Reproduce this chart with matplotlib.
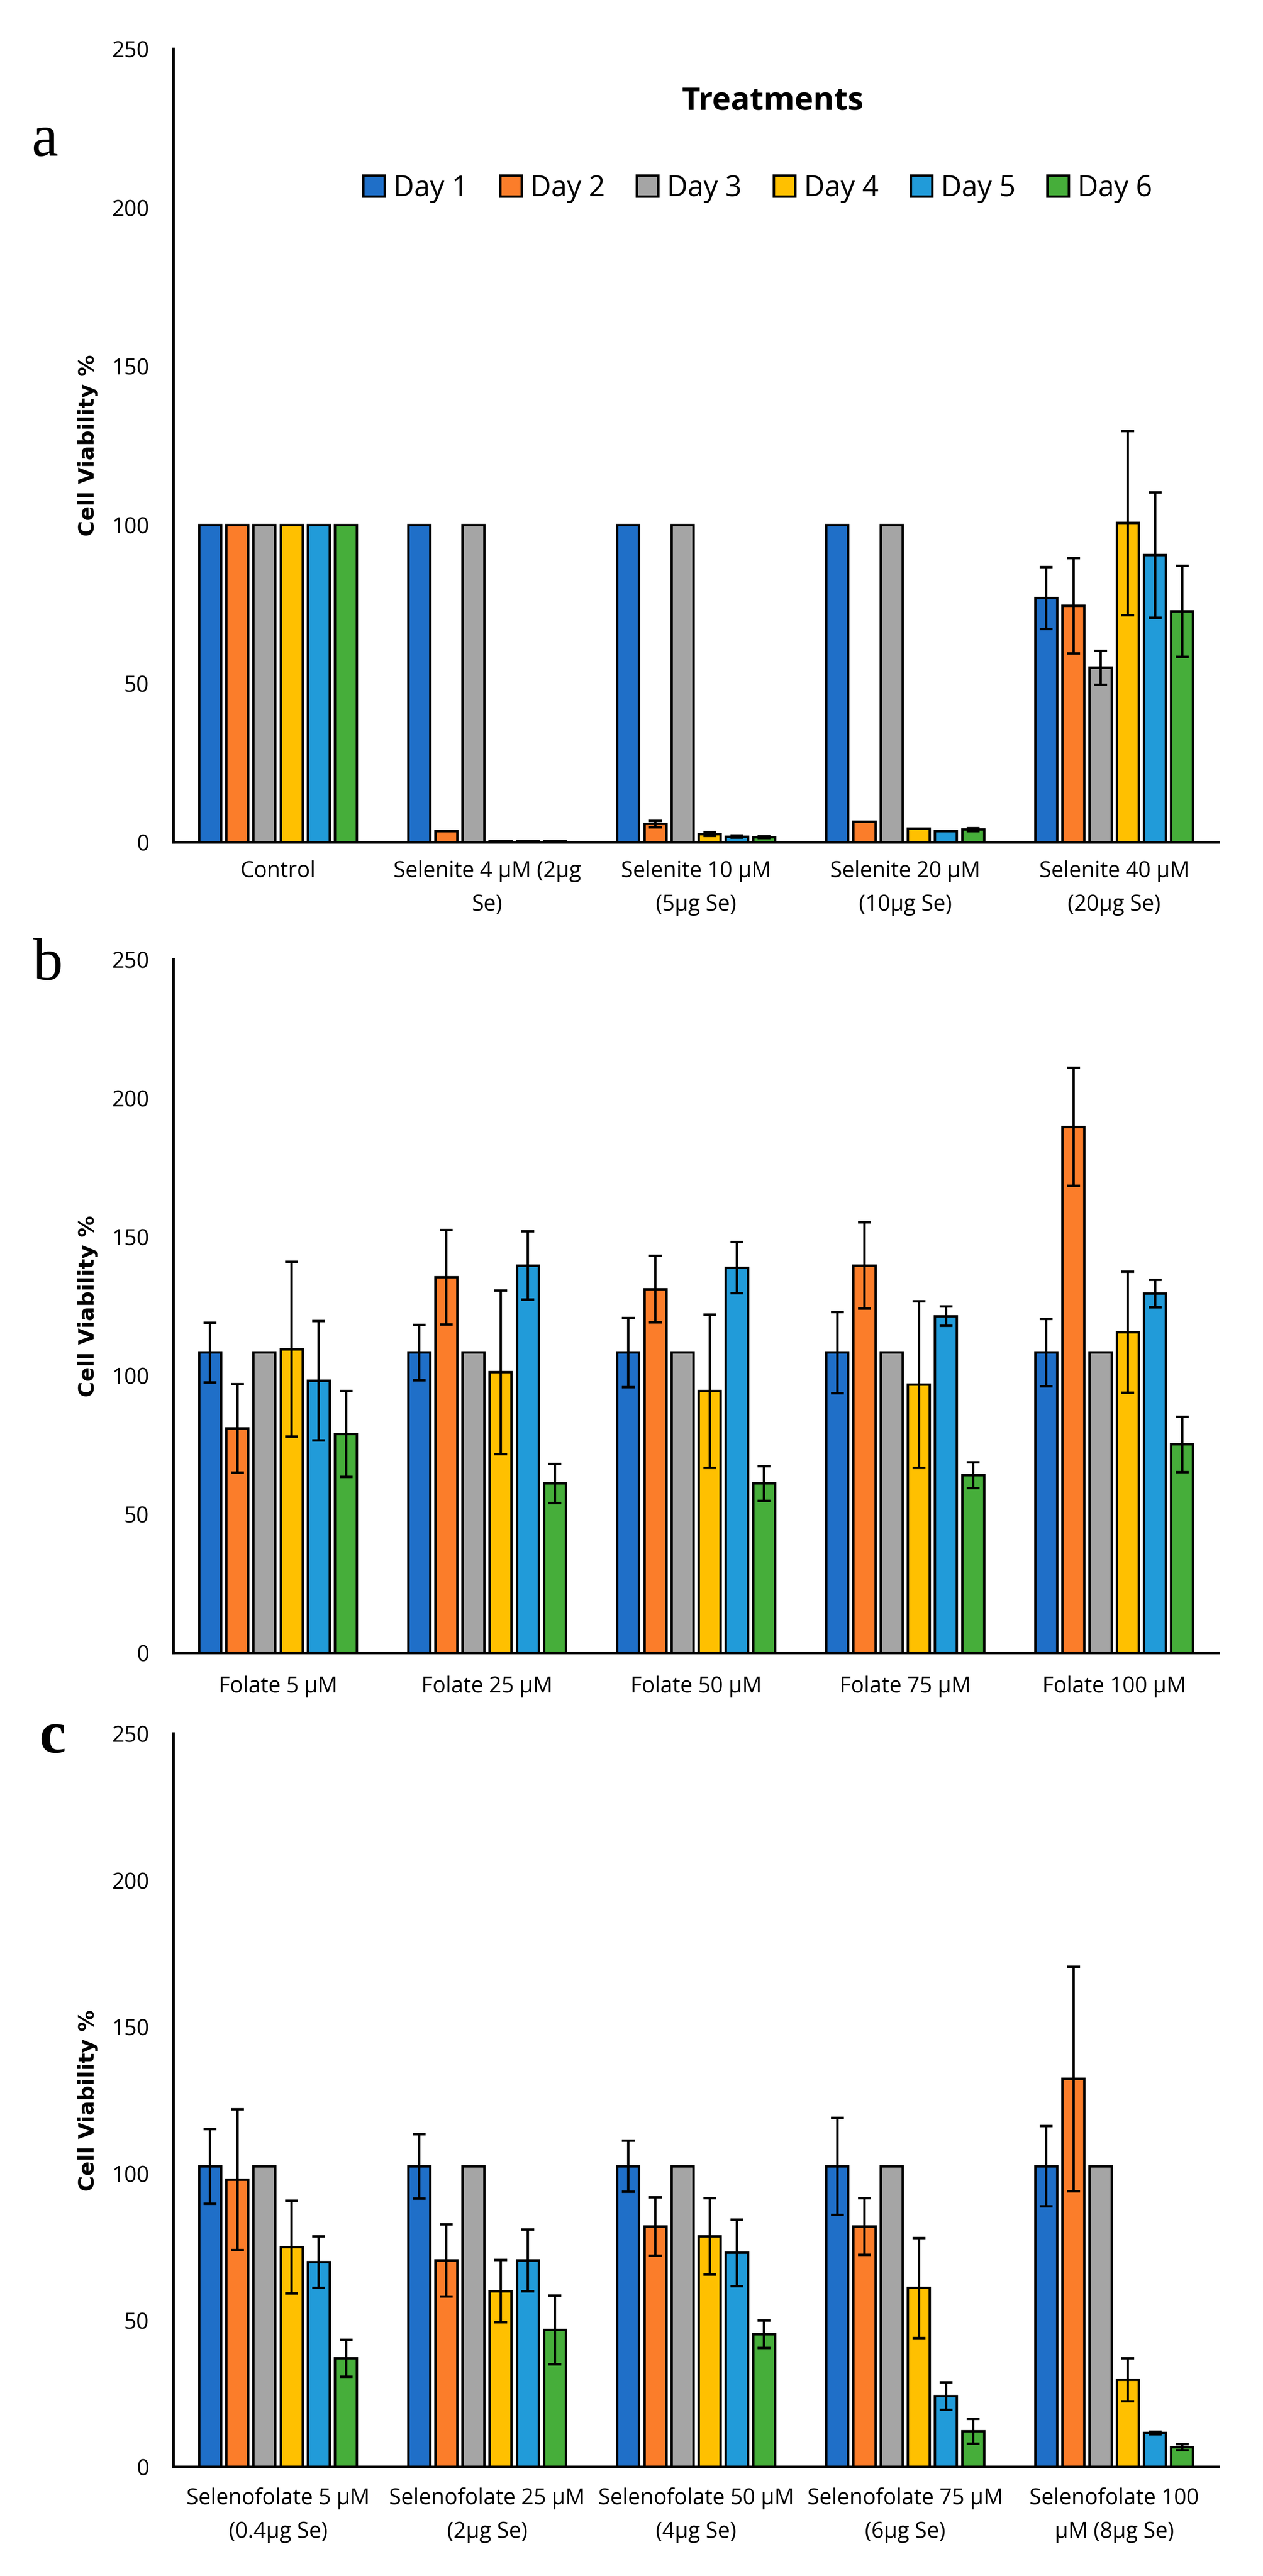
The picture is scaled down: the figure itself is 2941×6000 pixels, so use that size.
import matplotlib.pyplot as plt
import numpy as np

plt.rcParams['font.family'] = ['Open Sans', 'DejaVu Sans']

# series (one list per day, one value per treatment)
days = ['Day 1', 'Day 2', 'Day 3', 'Day 4', 'Day 5', 'Day 6']
colors = ['#1F6FC8', '#FB7D2A', '#A5A5A5', '#FFC000', '#219BD9', '#46AE3A']

# panel a - selenite
labels_a = ['Control', 'Selenite 4 µM (2µg\nSe)', 'Selenite 10 µM\n(5µg Se)',
            'Selenite 20 µM\n(10µg Se)', 'Selenite 40 µM\n(20µg Se)']
mean_a = [[100, 100, 100, 100, 77],
          [100, 3.5, 5.8, 6.5, 74.5],
          [100, 100, 100, 100, 55],
          [100, 0.4, 2.6, 4.3, 100.6],
          [100, 0.4, 1.8, 3.5, 90.5],
          [100, 0.4, 1.6, 4.0, 72.8]]
err_a = [[0, 0, 0, 0, 9.7],
         [0, 0, 1.0, 0, 15],
         [0, 0, 0, 0, 5.4],
         [0, 0, 0.6, 0, 29],
         [0, 0, 0.3, 0, 19.8],
         [0, 0, 0.3, 0.5, 14.3]]

# panel b - folate
labels_b = ['Folate 5 µM', 'Folate 25 µM', 'Folate 50 µM', 'Folate 75 µM', 'Folate 100 µM']
mean_b = [[108.3, 108.3, 108.3, 108.3, 108.3],
          [81, 135.5, 131.2, 139.7, 189.7],
          [108.3, 108.3, 108.3, 108.3, 108.3],
          [109.5, 101.2, 94.4, 96.8, 115.7],
          [98.2, 139.7, 138.9, 121.4, 129.6],
          [79, 61.1, 61.1, 64.1, 75.2]]
err_b = [[10.7, 10, 12.4, 14.6, 12.2],
         [16, 17, 12, 15.6, 21.3],
         [0, 0, 0, 0, 0],
         [31.5, 29.5, 27.6, 30, 21.8],
         [21.5, 12.3, 9.2, 3.5, 5],
         [15.5, 7, 6.3, 4.6, 10]]

# panel c - selenofolate
labels_c = ['Selenofolate 5 µM\n(0.4µg Se)', 'Selenofolate 25 µM\n(2µg Se)',
            'Selenofolate 50 µM\n(4µg Se)', 'Selenofolate 75 µM\n(6µg Se)',
            'Selenofolate 100\nµM (8µg Se)']
mean_c = [[102.5, 102.5, 102.5, 102.5, 102.5],
          [98, 70.4, 82, 82, 132.3],
          [102.5, 102.5, 102.5, 102.5, 102.5],
          [74.9, 59.9, 78.6, 61, 29.7],
          [69.8, 70.4, 73, 24.2, 11.6],
          [37, 46.7, 45.2, 12.2, 6.8]]
err_c = [[12.7, 11, 8.7, 16.5, 13.7],
         [24, 12.3, 9.9, 9.6, 38.3],
         [0, 0, 0, 0, 0],
         [15.8, 10.6, 13, 17, 7.3],
         [8.8, 10.5, 11.4, 4.7, 0.5],
         [6.3, 11.7, 4.7, 4.2, 1]]

fig = plt.figure(figsize=(29.41, 60), dpi=100)

slot = 0.13


def panel(rect, labels, means, errs, xpad):
    ax = fig.add_axes(rect)
    x = np.arange(len(labels))
    for i in range(len(days)):
        pos = x + (i - 2.5) * slot
        m = np.array(means[i], dtype=float)
        e = np.array(errs[i], dtype=float)
        ax.bar(pos, m, width=0.105, color=colors[i], edgecolor='black',
               linewidth=4, label=days[i], zorder=2)
        k = e > 0
        if k.any():
            ax.errorbar(pos[k], m[k], yerr=e[k], fmt='none', ecolor='black',
                        elinewidth=4, capsize=11, capthick=4, zorder=3)
    ax.set_xlim(-0.5, 4.5)
    ax.set_ylim(0, 250)
    ax.set_yticks(range(0, 251, 50))
    ax.set_xticks(x)
    ax.set_xticklabels(labels, linespacing=1.7)
    ax.tick_params(axis='both', length=0, labelsize=36.5)
    ax.tick_params(axis='y', pad=41)
    ax.tick_params(axis='x', pad=xpad)
    for s in ['top', 'right']:
        ax.spines[s].set_visible(False)
    for s in ['left', 'bottom']:
        ax.spines[s].set_linewidth(4.5)
    ax.set_ylabel('Cell Viability %', fontsize=36, fontweight='bold',
                  fontfamily='DejaVu Sans')
    ax.yaxis.set_label_coords(-0.072, 0.5)
    return ax


ax_a = panel([0.1374, 0.673, 0.8276, 0.308], labels_a, mean_a, err_a, 30)
ax_b = panel([0.1374, 0.3583, 0.8276, 0.2692], labels_b, mean_b, err_b, 38)
ax_c = panel([0.1374, 0.0423, 0.8276, 0.2847], labels_c, mean_c, err_c, 34)

ax_a.text(0.573, 0.933, 'Treatments', transform=ax_a.transAxes, ha='center',
          va='center', fontsize=53, fontweight='bold')
ax_a.legend(loc='center', bbox_to_anchor=(0.559, 0.824), ncol=6, frameon=False,
            fontsize=48, handlelength=0.75, handleheight=0.75,
            handletextpad=0.3, columnspacing=1.12)

fig.text(0.025, 0.9395, 'a', fontsize=100, family='Liberation Serif', va='baseline')
fig.text(0.026, 0.6197, 'b', fontsize=100, family='Liberation Serif', va='baseline')
fig.text(0.031, 0.3197, 'c', fontsize=100, family='Liberation Serif',
         fontweight='bold', va='baseline')

fig.savefig('out.png', dpi=100, facecolor='white')
